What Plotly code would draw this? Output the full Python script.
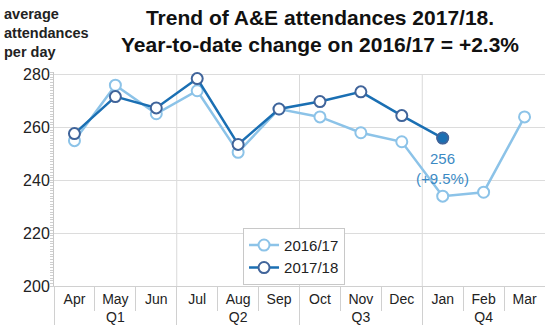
import plotly.graph_objects as go

months = ["Apr", "May", "Jun", "Jul", "Aug", "Sep", "Oct", "Nov", "Dec", "Jan", "Feb", "Mar"]
quarters = ["Q1", "Q1", "Q1", "Q2", "Q2", "Q2", "Q3", "Q3", "Q3", "Q4", "Q4", "Q4"]
y1617 = [255, 276, 265.2, 273.9, 250.6, 267, 264, 258, 254.6, 234, 235.5, 264]
y1718 = [257.7, 271.7, 267.4, 278.5, 253.6, 267, 269.8, 273.5, 264.5, 256]
last_label = "256<br>(+9.5%)"

x_all = [quarters, months]
n18 = len(y1718)
x18 = [quarters[:n18], months[:n18]]

light = "#8cc3e8"
dark = "#1a6fb3"
FONT = "Liberation Sans, Arial"

fig = go.Figure()
fig.add_trace(go.Scatter(
    x=x_all, y=y1617, name="2016/17", mode="lines+markers",
    line=dict(color=light, width=2.5),
    marker=dict(symbol="circle", size=11, color="white", line=dict(color=light, width=2)),
))
fig.add_trace(go.Scatter(
    x=x18, y=y1718, name="2017/18", mode="lines+markers",
    line=dict(color=dark, width=2.5),
    marker=dict(symbol="circle", size=11, color="white", line=dict(color="#40649a", width=2)),
))
# highlighted last point
fig.add_trace(go.Scatter(
    x=[[quarters[n18 - 1]], [months[n18 - 1]]], y=[y1718[-1]], mode="markers",
    marker=dict(symbol="circle", size=11, color=dark, line=dict(color="#40649a", width=1.5)),
    showlegend=False, hoverinfo="skip",
))
fig.add_annotation(
    x=n18 - 1, y=y1718[-1], xref="x", yref="y", text=last_label, showarrow=False,
    yshift=-30, font=dict(family=FONT, size=15, color="#3b8ac4"),
)

# quarter boundary lines
for i in range(1, len(months)):
    if quarters[i] != quarters[i - 1]:
        fig.add_shape(type="line", xref="x", yref="y", x0=i - 0.5, x1=i - 0.5, y0=200, y1=280,
                      line=dict(color="#d9d9d9", width=1), layer="below")

fig.update_layout(
    width=545, height=333,
    margin=dict(l=54, r=0, t=72, b=47),
    paper_bgcolor="white", plot_bgcolor="white",
    font=dict(family=FONT, size=14, color="#222"),
    legend=dict(
        x=0.385, y=0.272, xanchor="left", yanchor="top",
        bgcolor="white", bordercolor="#c8c8c8", borderwidth=1,
        font=dict(size=15, color="#222"), tracegroupgap=0, itemwidth=30,
    ),
    showlegend=True,
)
fig.add_annotation(
    xref="paper", yref="paper", x=0.542, y=1.318, xanchor="center", yanchor="top",
    text="<b>Trend of A&E attendances 2017/18.<br>Year-to-date change on 2016/17 = +2.3%</b>",
    showarrow=False, align="center",
    font=dict(family=FONT, size=21, color="#111"),
)
fig.add_annotation(
    xref="paper", yref="paper", x=-0.106, y=1.32, xanchor="left", yanchor="top",
    text="<b>average<br>attendances<br>per day</b>", showarrow=False, align="left",
    font=dict(family=FONT, size=14.5, color="#222"),
)
fig.update_xaxes(
    type="multicategory", range=[-0.5, 11.5], showgrid=False,
    showline=True, linecolor="#d0d0d0", ticks="outside", tickson="boundaries", ticklen=24,
    tickcolor="#d0d0d0", showdividers=True, dividercolor="#d0d0d0", dividerwidth=1,
    tickfont=dict(size=14, color="#222"),
)
fig.update_yaxes(
    range=[200, 281], tickvals=[200, 220, 240, 260, 280], showgrid=True, gridcolor="#dcdcdc",
    showline=True, linecolor="#c8c8c8", zeroline=False, ticks="", tickfont=dict(size=16, color="#222"),
    minor=dict(ticks="outside", ticklen=3, dtick=1, tickcolor="#cfcfcf"),
)
fig.write_html("out.html")
